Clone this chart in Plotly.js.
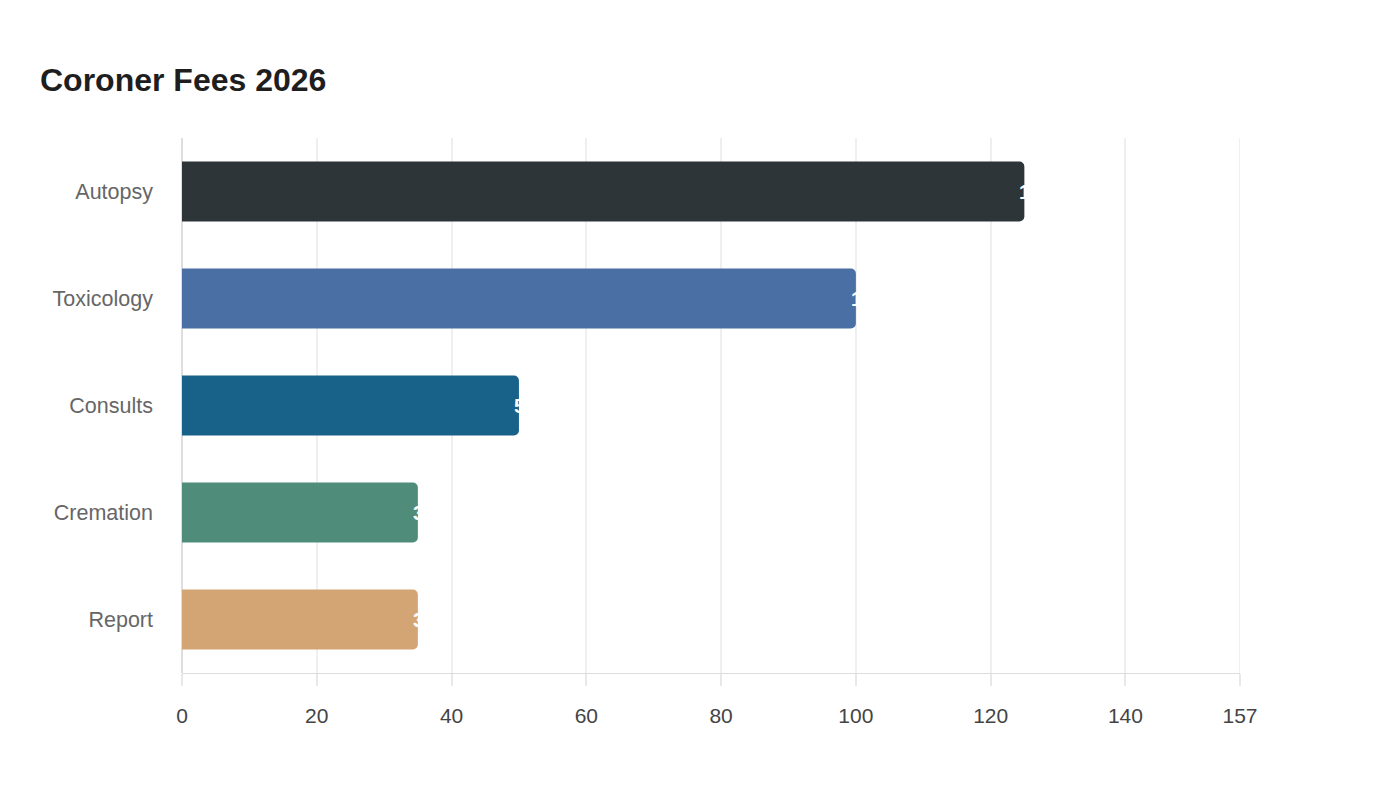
<!DOCTYPE html>
<html>
<head>
<meta charset="utf-8">
<script src="https://cdn.plot.ly/plotly-3.0.1.min.js"></script>
<style>html,body{margin:0;padding:0;background:#fff;}#chart{width:1400px;height:800px;}</style>
</head>
<body>
<div id="chart"></div>
<script>
const categories = ["Autopsy", "Toxicology", "Consults", "Cremation", "Report"];
const fees = [125, 100, 50, 35, 35];
const barColors = ["#2e3538", "#4a6fa5", "#186188", "#4f8c7a", "#d4a574"];
const tickValues = [0, 20, 40, 60, 80, 100, 120, 140, 157];
const tickLabels = ["0", "20", "40", "60", "80", "100", "120", "140", "157"];
const axisMax = 157;

const trace = {
  type: "bar",
  orientation: "h",
  y: categories,
  x: fees,
  marker: { color: barColors, line: { width: 0 } },
  hoverinfo: "x+y"
};

const annotations = categories.map((c, i) => ({
  x: fees[i], y: c, xref: "x", yref: "y",
  text: String(fees[i]), showarrow: false,
  xanchor: "left", xshift: -7,
  font: { family: "Liberation Sans, Arial, sans-serif", size: 20, color: "#ffffff", weight: "bold" }
}));

const layout = {
  width: 1400, height: 800,
  paper_bgcolor: "#ffffff", plot_bgcolor: "#ffffff",
  margin: { l: 182, r: 160, t: 138, b: 127 },
  title: {
    text: "<b>Coroner Fees 2026</b>",
    x: 40 / 1400, xref: "container", xanchor: "left",
    y: 1 - 80 / 800, yref: "container", yanchor: "middle",
    font: { family: "Liberation Sans, Arial, sans-serif", size: 32, color: "#1e1e1e" }
  },
  barcornerradius: 5,
  bargap: 0.44,
  showlegend: false,
  xaxis: {
    range: [0, axisMax],
    tickvals: tickValues, ticktext: tickLabels,
    showgrid: true, gridcolor: "#efefef", gridwidth: 2,
    zeroline: true, zerolinecolor: "#dedede", zerolinewidth: 2,
    showline: true, linecolor: "#dddddd", linewidth: 1,
    ticks: "outside", ticklen: 12, tickcolor: "#e8e8e8", tickwidth: 2,
    ticklabelstandoff: 12,
    tickfont: { family: "Liberation Sans, Arial, sans-serif", size: 21, color: "#444444" },
    fixedrange: true
  },
  yaxis: {
    autorange: "reversed",
    showgrid: false, zeroline: false, showline: false,
    ticks: "", ticklabelstandoff: 28,
    tickfont: { family: "Liberation Sans, Arial, sans-serif", size: 21.5, color: "#666666" },
    fixedrange: true
  },
  shapes: [{
    type: "line", xref: "x", yref: "paper",
    x0: axisMax, x1: axisMax, y0: 0, y1: 1,
    line: { color: "#efefef", width: 2 }, layer: "below"
  }],
  annotations: annotations
};

Plotly.newPlot("chart", [trace], layout, { displayModeBar: false, staticPlot: true });
</script>
</body>
</html>
